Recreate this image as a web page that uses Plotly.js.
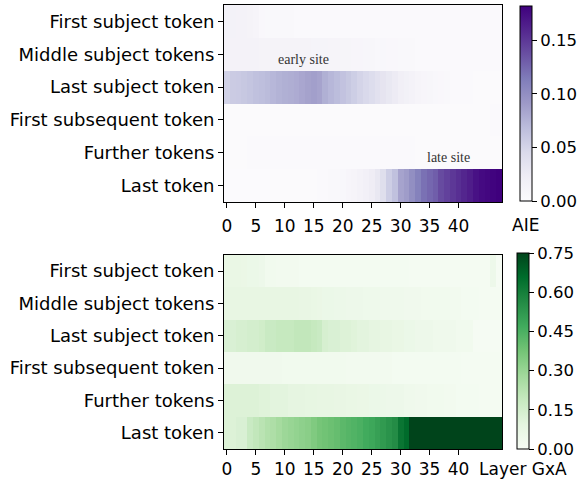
<!DOCTYPE html>
<html>
<head>
<meta charset="utf-8">
<script src="https://cdn.plot.ly/plotly-3.0.1.min.js"></script>
<style>html,body{margin:0;padding:0;background:#fff;}#chart{width:585px;height:480px;}</style>
</head>
<body>
<div id="chart"></div>
<script>
// Token positions (rows, top to bottom)
const tokenLabels = ["First subject token", "Middle subject tokens", "Last subject token",
  "First subsequent token", "Further tokens", "Last token"];
// Layers 0..47
const layers = [0,1,2,3,4,5,6,7,8,9,10,11,12,13,14,15,16,17,18,19,20,21,22,23,24,25,26,27,28,29,30,31,32,33,34,35,36,37,38,39,40,41,42,43,44,45,46,47];
const xTicks = [0,5,10,15,20,25,30,35,40];

// ---- Top panel: AIE (average indirect effect) ----
const aieFirstSubject = [0.015,0.015,0.014,0.014,0.013,0.011,0.006,0.005,0.005,0.005,0.005,0.005,0.004,0.004,0.004,0.004,0.004,0.004,0.004,0.004,0.004,0.004,0.004,0.003,0.003,0.003,0.003,0.003,0.003,0.003,0.003,0.003,0.003,0.003,0.003,0.003,0.003,0.003,0.003,0.003,0.003,0.003,0.003,0.003,0.003,0.003,0.003,0.003];
const aieMiddleSubject = [0.014,0.014,0.014,0.014,0.014,0.014,0.013,0.013,0.013,0.013,0.013,0.013,0.013,0.013,0.013,0.012,0.012,0.012,0.011,0.011,0.010,0.010,0.009,0.009,0.008,0.008,0.007,0.007,0.006,0.006,0.005,0.005,0.005,0.004,0.004,0.004,0.004,0.004,0.003,0.003,0.003,0.003,0.003,0.003,0.003,0.003,0.003,0.003];
const aieLastSubject = [0.052,0.057,0.058,0.060,0.062,0.065,0.067,0.069,0.072,0.075,0.077,0.078,0.080,0.083,0.086,0.088,0.085,0.077,0.072,0.068,0.064,0.060,0.055,0.050,0.046,0.042,0.037,0.033,0.029,0.025,0.020,0.017,0.014,0.011,0.009,0.008,0.007,0.006,0.005,0.004,0.004,0.003,0.003,0.002,0.002,0.002,0.002,0.002];
const aieFirstSubsequent = [0.002,0.002,0.002,0.002,0.002,0.002,0.002,0.002,0.002,0.002,0.002,0.002,0.002,0.002,0.002,0.002,0.002,0.002,0.002,0.002,0.002,0.002,0.002,0.002,0.002,0.002,0.002,0.002,0.002,0.002,0.002,0.002,0.002,0.002,0.002,0.002,0.002,0.002,0.002,0.002,0.002,0.002,0.002,0.002,0.002,0.002,0.003,0.003];
const aieFurther = [0.002,0.002,0.002,0.002,0.003,0.004,0.004,0.004,0.004,0.004,0.004,0.004,0.004,0.004,0.004,0.004,0.004,0.004,0.004,0.004,0.004,0.004,0.004,0.004,0.004,0.004,0.004,0.004,0.004,0.004,0.003,0.003,0.003,0.002,0.002,0.002,0.002,0.002,0.002,0.002,0.002,0.002,0.002,0.002,0.002,0.002,0.002,0.002];
const aieLastToken = [0.001,0.001,0.001,0.001,0.001,0.001,0.001,0.001,0.002,0.002,0.002,0.002,0.002,0.002,0.002,0.002,0.004,0.004,0.005,0.005,0.007,0.009,0.011,0.014,0.018,0.023,0.029,0.040,0.055,0.065,0.085,0.090,0.100,0.110,0.120,0.125,0.130,0.140,0.145,0.150,0.155,0.160,0.165,0.172,0.176,0.178,0.180,0.182];

// ---- Bottom panel: Layer GxA ----
const gxaFirstSubject = [0.07,0.07,0.07,0.065,0.06,0.06,0.05,0.03,0.03,0.025,0.025,0.025,0.025,0.02,0.02,0.02,0.02,0.02,0.02,0.02,0.02,0.02,0.02,0.02,0.02,0.02,0.02,0.02,0.02,0.02,0.02,0.02,0.015,0.015,0.015,0.015,0.015,0.015,0.015,0.015,0.015,0.015,0.015,0.015,0.015,0.015,0.05,0.01];
const gxaMiddleSubject = [0.08,0.08,0.08,0.08,0.08,0.08,0.08,0.08,0.08,0.08,0.08,0.08,0.08,0.075,0.075,0.07,0.065,0.06,0.06,0.055,0.055,0.05,0.05,0.05,0.045,0.045,0.045,0.04,0.04,0.04,0.04,0.035,0.035,0.035,0.03,0.03,0.03,0.03,0.03,0.025,0.025,0.02,0.02,0.02,0.015,0.015,0.015,0.015];
const gxaLastSubject = [0.13,0.13,0.14,0.14,0.15,0.15,0.16,0.18,0.18,0.19,0.19,0.19,0.2,0.2,0.2,0.19,0.18,0.14,0.13,0.13,0.12,0.12,0.11,0.1,0.1,0.09,0.09,0.08,0.08,0.07,0.07,0.06,0.06,0.05,0.05,0.05,0.04,0.04,0.04,0.04,0.03,0.03,0.03,0.01,0.01,0.01,0.01,0.01];
const gxaFirstSubsequent = [0.035,0.035,0.035,0.035,0.035,0.035,0.035,0.035,0.035,0.035,0.03,0.03,0.03,0.03,0.03,0.03,0.03,0.03,0.03,0.03,0.03,0.025,0.025,0.025,0.025,0.025,0.025,0.025,0.025,0.02,0.02,0.02,0.02,0.02,0.02,0.02,0.02,0.02,0.02,0.02,0.02,0.015,0.015,0.015,0.015,0.015,0.015,0.015];
const gxaFurther = [0.12,0.12,0.12,0.12,0.12,0.12,0.11,0.11,0.1,0.1,0.1,0.09,0.09,0.09,0.085,0.085,0.08,0.08,0.08,0.075,0.075,0.07,0.07,0.065,0.065,0.06,0.06,0.055,0.05,0.05,0.05,0.04,0.04,0.035,0.035,0.03,0.03,0.03,0.025,0.025,0.02,0.02,0.02,0.02,0.015,0.015,0.015,0.015];
const gxaLastToken = [0.12,0.12,0.13,0.13,0.18,0.2,0.22,0.24,0.25,0.27,0.29,0.3,0.31,0.32,0.33,0.35,0.37,0.38,0.39,0.4,0.42,0.43,0.44,0.45,0.47,0.48,0.5,0.52,0.54,0.56,0.63,0.66,0.76,0.8,0.8,0.8,0.8,0.8,0.8,0.8,0.8,0.8,0.8,0.8,0.8,0.8,0.8,0.8];

const aieTicks = [0, 0.05, 0.10, 0.15];
const gxaTicks = [0, 0.15, 0.30, 0.45, 0.60, 0.75];

const purples = [[0,'#fcfbfd'],[0.125,'#efedf5'],[0.25,'#dadaeb'],[0.375,'#bcbddc'],[0.5,'#9e9ac8'],[0.625,'#807dba'],[0.75,'#6a51a3'],[0.875,'#54278f'],[1,'#3f007d']];
const greens = [[0,'#f7fcf5'],[0.125,'#e5f5e0'],[0.25,'#c7e9c0'],[0.375,'#a1d99b'],[0.5,'#74c476'],[0.625,'#41ab5d'],[0.75,'#238b45'],[0.875,'#006d2c'],[1,'#00441b']];

const W = 585, H = 480;
const FONT = 'DejaVu Sans, sans-serif';
const fs = 17;

const aieZ = [aieFirstSubject, aieMiddleSubject, aieLastSubject, aieFirstSubsequent, aieFurther, aieLastToken];
const gxaZ = [gxaFirstSubject, gxaMiddleSubject, gxaLastSubject, gxaFirstSubsequent, gxaFurther, gxaLastToken];

function cbar(xpx, ytop, lenpx, ticks) {
  return {
    x: xpx / W, xanchor: 'left', xpad: 0,
    y: 1 - ytop / H, yanchor: 'top', ypad: 0,
    len: lenpx / H, lenmode: 'fraction',
    thickness: 12, thicknessmode: 'pixels',
    outlinewidth: 1, outlinecolor: '#000',
    ticks: 'outside', ticklen: 5, tickcolor: '#000',
    tickvals: ticks, tickformat: '.2f',
    tickfont: {family: FONT, size: 16.5, color: '#000'}
  };
}

const traces = [
  {type: 'heatmap', x: layers, y: tokenLabels, z: aieZ, xaxis: 'x', yaxis: 'y',
   colorscale: purples, zmin: 0, zmax: 0.182, hoverinfo: 'skip',
   colorbar: cbar(520, 6, 195, aieTicks)},
  {type: 'heatmap', x: layers, y: tokenLabels, z: gxaZ, xaxis: 'x2', yaxis: 'y2',
   colorscale: greens, zmin: 0, zmax: 0.75, hoverinfo: 'skip',
   colorbar: cbar(517, 253, 196, gxaTicks)}
];

function xax(anchor, standoff) {
  return {domain: [224 / W, 502 / W], anchor: anchor, range: [-0.5, 47.5],
    tickvals: xTicks, ticks: 'outside', ticklen: 5, tickcolor: '#000',
    ticklabelstandoff: standoff,
    showline: true, mirror: true, linecolor: '#000', linewidth: 1,
    showgrid: false, zeroline: false,
    tickfont: {family: FONT, size: fs, color: '#000'}};
}
function yax(anchor, top, bottom) {
  return {domain: [1 - bottom / H, 1 - top / H], anchor: anchor, autorange: 'reversed',
    type: 'category', ticks: 'outside', ticklen: 5, tickcolor: '#000',
    showline: true, mirror: true, linecolor: '#000', linewidth: 1,
    showgrid: false, zeroline: false,
    tickfont: {family: FONT, size: 18, color: '#000'}};
}

const layout = {
  width: W, height: H,
  margin: {l: 0, r: 0, t: 0, b: 0},
  paper_bgcolor: '#fff', plot_bgcolor: '#fff',
  showlegend: false,
  xaxis: xax('y', 4), yaxis: yax('x', 5, 202),
  xaxis2: xax('y2', 0), yaxis2: yax('x2', 255, 449),
  annotations: [
    {text: 'early site', xref: 'x', yref: 'y', x: 13.2, y: 1.17, showarrow: false,
     font: {family: 'Liberation Serif, Times New Roman, serif', size: 14, color: '#333'}},
    {text: 'late site', xref: 'x', yref: 'y', x: 38.2, y: 4.16, showarrow: false,
     font: {family: 'Liberation Serif, Times New Roman, serif', size: 14, color: '#333'}},
    {text: 'AIE', xref: 'paper', yref: 'paper', x: 525 / W, y: 1 - 225 / H, showarrow: false,
     xanchor: 'center', yanchor: 'middle',
     font: {family: FONT, size: fs, color: '#000'}},
    {text: 'Layer GxA', xref: 'paper', yref: 'paper', x: 523 / W, y: 1 - 469 / H, showarrow: false,
     xanchor: 'center', yanchor: 'middle',
     font: {family: FONT, size: fs, color: '#000'}}
  ]
};

Plotly.newPlot('chart', traces, layout, {displayModeBar: false, staticPlot: true});
</script>
</body>
</html>
